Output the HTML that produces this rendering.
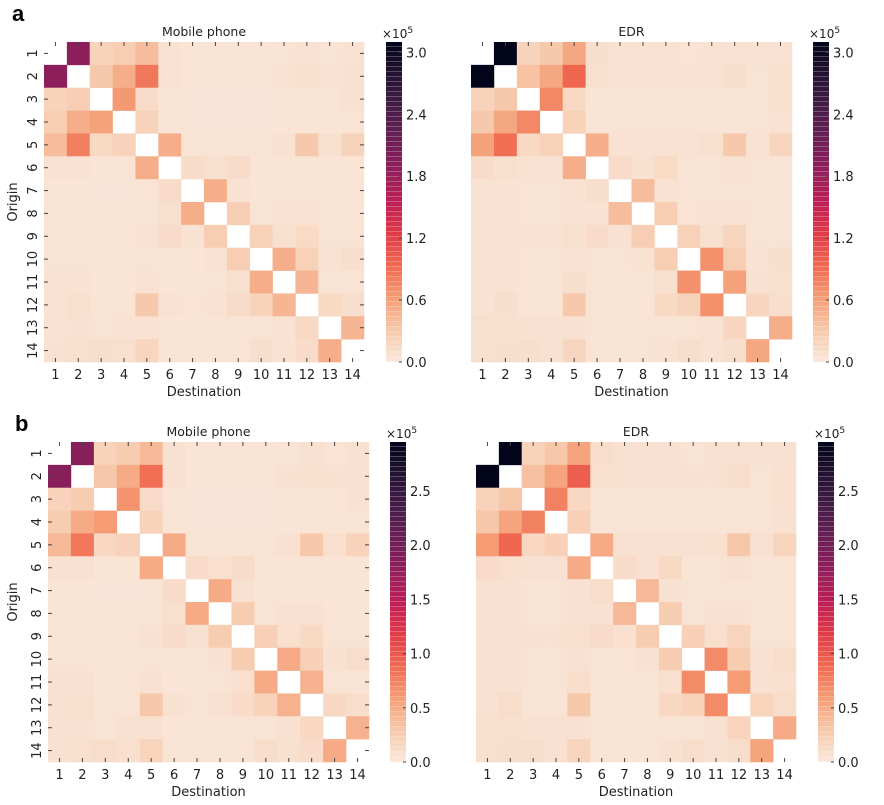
<!DOCTYPE html>
<html><head><meta charset="utf-8"><style>
html,body{margin:0;padding:0;background:#fff;}
svg{display:block;font-family:"DejaVu Sans","Liberation Sans",sans-serif;}
</style></head><body>
<svg id="fig" width="884" height="805" viewBox="0 0 884 805" xmlns="http://www.w3.org/2000/svg">
<text x="12" y="21" font-size="22" font-weight="bold" font-family="Liberation Sans, sans-serif">a</text>
<text x="15" y="431" font-size="22" font-weight="bold" font-family="Liberation Sans, sans-serif">b</text>
</svg>
<script>
const districts = ["1","2","3","4","5","6","7","8","9","10","11","12","13","14"];
const mobileA = [
[null,1.9,0.2,0.25,0.4,0.06,0.04,0.04,0.04,0.04,0.05,0.06,0.05,0.06],
[1.9,null,0.3,0.5,0.85,0.06,0.04,0.05,0.05,0.05,0.06,0.08,0.06,0.07],
[0.2,0.25,null,0.65,0.12,0.04,0.03,0.03,0.03,0.03,0.04,0.04,0.05,0.07],
[0.25,0.5,0.6,null,0.2,0.04,0.03,0.03,0.03,0.03,0.04,0.04,0.04,0.05],
[0.4,0.8,0.15,0.2,null,0.5,0.05,0.05,0.05,0.05,0.07,0.3,0.08,0.2],
[0.06,0.06,0.04,0.04,0.5,null,0.12,0.08,0.12,0.04,0.04,0.05,0.04,0.04],
[0.04,0.04,0.03,0.03,0.05,0.12,null,0.5,0.06,0.04,0.04,0.04,0.04,0.04],
[0.05,0.05,0.04,0.04,0.05,0.08,0.5,null,0.25,0.05,0.06,0.06,0.04,0.04],
[0.05,0.05,0.04,0.04,0.06,0.12,0.06,0.25,null,0.22,0.08,0.14,0.05,0.05],
[0.05,0.05,0.04,0.04,0.05,0.04,0.04,0.06,0.25,null,0.5,0.22,0.06,0.1],
[0.06,0.06,0.04,0.04,0.06,0.04,0.04,0.05,0.08,0.5,null,0.45,0.05,0.05],
[0.06,0.08,0.05,0.05,0.3,0.06,0.05,0.06,0.12,0.2,0.45,null,0.15,0.1],
[0.06,0.07,0.05,0.06,0.06,0.04,0.04,0.04,0.05,0.05,0.06,0.15,null,0.45],
[0.07,0.08,0.1,0.08,0.18,0.05,0.05,0.05,0.05,0.1,0.06,0.12,0.5,null]];
const edrA = [
[null,3.2,0.2,0.3,0.55,0.1,0.06,0.06,0.06,0.05,0.06,0.06,0.06,0.06],
[3.2,null,0.35,0.55,0.95,0.08,0.06,0.06,0.06,0.06,0.06,0.1,0.05,0.08],
[0.2,0.3,null,0.75,0.15,0.05,0.05,0.05,0.05,0.05,0.05,0.05,0.05,0.08],
[0.3,0.55,0.75,null,0.22,0.05,0.05,0.05,0.05,0.05,0.05,0.05,0.05,0.06],
[0.6,0.9,0.15,0.22,null,0.5,0.06,0.06,0.06,0.06,0.08,0.3,0.06,0.18],
[0.12,0.08,0.06,0.06,0.5,null,0.12,0.07,0.14,0.05,0.05,0.06,0.05,0.05],
[0.06,0.06,0.05,0.05,0.06,0.1,null,0.4,0.06,0.05,0.05,0.05,0.05,0.05],
[0.06,0.06,0.05,0.05,0.06,0.06,0.4,null,0.25,0.05,0.06,0.06,0.05,0.05],
[0.06,0.06,0.06,0.06,0.08,0.12,0.07,0.25,null,0.22,0.08,0.18,0.05,0.05],
[0.06,0.06,0.05,0.05,0.06,0.05,0.05,0.06,0.25,null,0.7,0.25,0.06,0.1],
[0.06,0.06,0.05,0.05,0.1,0.05,0.05,0.05,0.08,0.7,null,0.6,0.07,0.08],
[0.06,0.1,0.05,0.05,0.3,0.05,0.05,0.05,0.15,0.2,0.7,null,0.18,0.1],
[0.08,0.08,0.07,0.07,0.07,0.05,0.05,0.05,0.05,0.05,0.06,0.18,null,0.5],
[0.08,0.09,0.09,0.07,0.18,0.05,0.05,0.05,0.06,0.1,0.06,0.1,0.55,null]];
const mobileB = [
[null,1.85,0.2,0.25,0.4,0.06,0.04,0.04,0.04,0.04,0.05,0.06,0.05,0.06],
[1.85,null,0.3,0.5,0.85,0.06,0.04,0.05,0.05,0.05,0.06,0.08,0.06,0.07],
[0.2,0.25,null,0.65,0.12,0.04,0.03,0.03,0.03,0.03,0.04,0.04,0.05,0.07],
[0.25,0.5,0.6,null,0.2,0.04,0.03,0.03,0.03,0.03,0.04,0.04,0.04,0.05],
[0.4,0.8,0.15,0.2,null,0.5,0.05,0.05,0.05,0.05,0.07,0.3,0.08,0.2],
[0.06,0.06,0.04,0.04,0.5,null,0.12,0.08,0.12,0.04,0.04,0.05,0.04,0.04],
[0.04,0.04,0.03,0.03,0.05,0.12,null,0.5,0.06,0.04,0.04,0.04,0.04,0.04],
[0.05,0.05,0.04,0.04,0.05,0.08,0.5,null,0.25,0.05,0.06,0.06,0.04,0.04],
[0.05,0.05,0.04,0.04,0.06,0.12,0.06,0.25,null,0.22,0.08,0.14,0.05,0.05],
[0.05,0.05,0.04,0.04,0.05,0.04,0.04,0.06,0.25,null,0.5,0.22,0.06,0.1],
[0.06,0.06,0.04,0.04,0.06,0.04,0.04,0.05,0.08,0.5,null,0.45,0.05,0.05],
[0.06,0.08,0.05,0.05,0.3,0.06,0.05,0.06,0.12,0.2,0.45,null,0.15,0.1],
[0.06,0.07,0.05,0.06,0.06,0.04,0.04,0.04,0.05,0.05,0.06,0.15,null,0.45],
[0.07,0.08,0.1,0.08,0.18,0.05,0.05,0.05,0.05,0.1,0.06,0.12,0.5,null]];
const edrB = [
[null,3.0,0.2,0.3,0.55,0.1,0.06,0.06,0.06,0.05,0.06,0.06,0.06,0.06],
[3.0,null,0.35,0.55,0.95,0.08,0.06,0.06,0.06,0.06,0.06,0.1,0.05,0.08],
[0.2,0.3,null,0.75,0.15,0.05,0.05,0.05,0.05,0.05,0.05,0.05,0.05,0.08],
[0.3,0.55,0.75,null,0.22,0.05,0.05,0.05,0.05,0.05,0.05,0.05,0.05,0.06],
[0.6,0.9,0.15,0.22,null,0.5,0.06,0.06,0.06,0.06,0.08,0.3,0.06,0.18],
[0.12,0.08,0.06,0.06,0.5,null,0.12,0.07,0.14,0.05,0.05,0.06,0.05,0.05],
[0.06,0.06,0.05,0.05,0.06,0.1,null,0.4,0.06,0.05,0.05,0.05,0.05,0.05],
[0.06,0.06,0.05,0.05,0.06,0.06,0.4,null,0.25,0.05,0.06,0.06,0.05,0.05],
[0.06,0.06,0.06,0.06,0.08,0.12,0.07,0.25,null,0.22,0.08,0.18,0.05,0.05],
[0.06,0.06,0.05,0.05,0.06,0.05,0.05,0.06,0.25,null,0.7,0.25,0.06,0.1],
[0.06,0.06,0.05,0.05,0.1,0.05,0.05,0.05,0.08,0.7,null,0.6,0.07,0.08],
[0.06,0.1,0.05,0.05,0.3,0.05,0.05,0.05,0.15,0.2,0.7,null,0.18,0.1],
[0.08,0.08,0.07,0.07,0.07,0.05,0.05,0.05,0.05,0.05,0.06,0.18,null,0.5],
[0.08,0.09,0.09,0.07,0.18,0.05,0.05,0.05,0.06,0.1,0.06,0.1,0.55,null]];
const cbTicksA = [0,0.6,1.2,1.8,2.4,3.0];
const cbTicksB = [0,0.5,1.0,1.5,2.0,2.5];

const NS="http://www.w3.org/2000/svg";
const svg=document.getElementById('fig');
const stops=[[0,[249,232,220]],[0.1,[247,200,170]],[0.2,[245,158,118]],[0.3,[240,105,80]],[0.4,[224,60,72]],[0.5,[190,30,86]],[0.6,[145,31,92]],[0.7,[105,31,85]],[0.8,[69,28,71]],[0.9,[34,19,49]],[1,[3,5,26]]];
function cmap(t){t=Math.max(0,Math.min(1,t));for(let i=1;i<stops.length;i++){if(t<=stops[i][0]){const a=stops[i-1],b=stops[i];const f=(t-a[0])/(b[0]-a[0]);const c=a[1].map((v,k)=>Math.round(v+(b[1][k]-v)*f));return `rgb(${c[0]},${c[1]},${c[2]})`;}}return 'rgb(3,5,26)';}
function el(tag,attrs,parent){const e=document.createElementNS(NS,tag);for(const k in attrs)e.setAttribute(k,attrs[k]);(parent||svg).appendChild(e);return e;}
function txt(x,y,s,size,parent,extra){const t=el('text',Object.assign({x:x,y:y,'font-size':size,fill:'#222'},extra||{}),parent);t.textContent=s;return t;}

function heatmap(cfg){
  const g=el('g',{});
  
  
  const n=districts.length, cw=cfg.w/n, ch=cfg.h/n;
  const xs=i=>cfg.x+i*cw, ys=i=>cfg.y+i*ch;
  const cv=v=>v/cfg.vmax;
  cfg.data.forEach((row,r)=>row.forEach((v,c)=>{
    if(v===null) return;
    const rc=el('rect',{x:xs(c),y:ys(r),width:cw+0.3,height:ch+0.3,fill:cmap(cv(v))},g);
    
    
  }));
  for(let i=0;i<n;i++){
    const cx=xs(i)+cw/2, cy=ys(i)+ch/2;
    el('line',{x1:cx,y1:cfg.y,x2:cx,y2:cfg.y+4,stroke:'#444','stroke-width':1},g);
    el('line',{x1:cx,y1:cfg.y+cfg.h,x2:cx,y2:cfg.y+cfg.h-4,stroke:'#444','stroke-width':1},g);
    const xl=txt(cx,cfg.y+cfg.h+17,districts[i],13,g,{'text-anchor':'middle'});
    
    
    if(cfg.showY){
      el('line',{x1:cfg.x,y1:cy,x2:cfg.x+4,y2:cy,stroke:'#444','stroke-width':1},g);
      el('line',{x1:cfg.x+cfg.w,y1:cy,x2:cfg.x+cfg.w-4,y2:cy,stroke:'#444','stroke-width':1},g);
      const yl=txt(0,0,districts[i],13,g,{'text-anchor':'middle',transform:`translate(${cfg.x-7},${cy}) rotate(-90)`});
      
      
    }
  }
  const tt=txt(cfg.x+cfg.w/2,cfg.y-6,cfg.title,12.5,g,{'text-anchor':'middle'});
  
  
  const xt=txt(cfg.x+cfg.w/2,cfg.y+cfg.h+34,'Destination',13,g,{'text-anchor':'middle'});
  
  
  if(cfg.showY){
    const yt=txt(0,0,'Origin',13,g,{'text-anchor':'middle',transform:`translate(17,${cfg.y+cfg.h/2}) rotate(-90)`});
    
    
  }
  const cb=el('g',{},g);
  
  
  const nb=64, bh=cfg.h/nb;
  for(let k=0;k<nb;k++){
    const t=(k+0.5)/nb;
    el('rect',{x:cfg.cbx,y:cfg.y+cfg.h-(k+1)*bh,width:cfg.cbw,height:bh*0.8,fill:cmap(t)},cb);
    el('rect',{x:cfg.cbx,y:cfg.y+cfg.h-(k+1)*bh+bh*0.8,width:cfg.cbw,height:bh*0.2+0.2,fill:cmap(t),opacity:0.75},cb);
  }
  const cy=v=>cfg.y+cfg.h-v/cfg.vmax*cfg.h;
  cfg.ticks.forEach(v=>{
    el('line',{x1:cfg.cbx+cfg.cbw-3,y1:cy(v),x2:cfg.cbx+cfg.cbw,y2:cy(v),stroke:'#444'},cb);
    const l=txt(cfg.cbx+cfg.cbw+4,cy(v)+5,v.toFixed(1),13,cb);
    
    
  });
  const m=txt(cfg.cbx-4,cfg.y-4,'×10',12,cb);
  const s=el('tspan',{dy:-5,'font-size':9},m); s.textContent='5';
  
  
}
heatmap({name:'heatmap-a-mobile',title:'Mobile phone',x:44,y:42,w:320,h:320,data:mobileA,vmax:3.1,cbx:386,cbw:16,ticks:cbTicksA,showY:true});
heatmap({name:'heatmap-a-edr',title:'EDR',x:471,y:42,w:321,h:320,data:edrA,vmax:3.1,cbx:813,cbw:16,ticks:cbTicksA,showY:false});
heatmap({name:'heatmap-b-mobile',title:'Mobile phone',x:48,y:442,w:321,h:320,data:mobileB,vmax:2.95,cbx:390,cbw:16,ticks:cbTicksB,showY:true});
heatmap({name:'heatmap-b-edr',title:'EDR',x:476,y:442,w:320,h:320,data:edrB,vmax:2.95,cbx:818,cbw:16,ticks:cbTicksB,showY:false});
</script>
</body></html>
